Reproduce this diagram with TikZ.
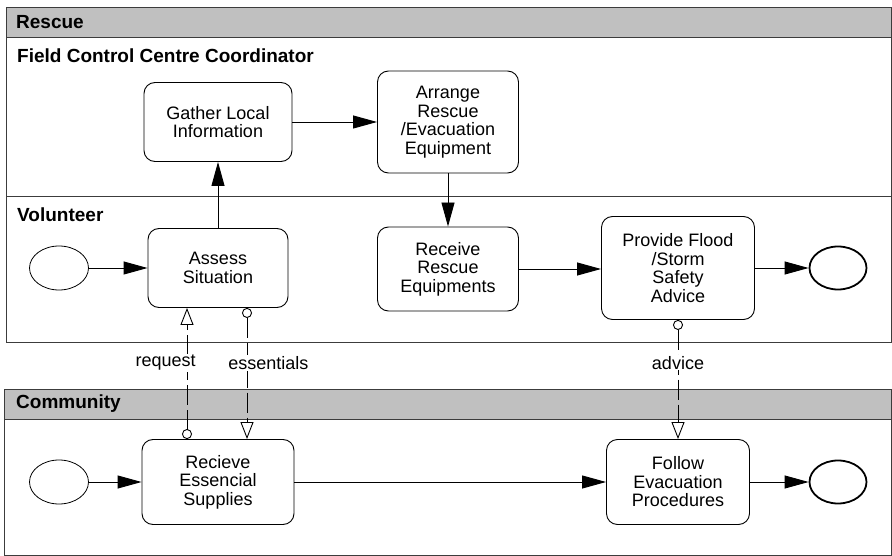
\documentclass[tikz,border=0pt]{standalone}
\usepackage{fontspec}
\setmainfont{Liberation Sans}
\usepackage{tikz}
\usetikzlibrary{arrows.meta,shapes.geometric,positioning}
\definecolor{H}{RGB}{192,192,192}
\definecolor{P}{RGB}{60,60,60}
\tikzstyle{task} = [rectangle, rounded corners=11pt, draw=black, line width=0.9pt,
text centered, align=center, inner sep=2pt,
font=\fontsize{18}{18.5}\selectfont]
\tikzstyle{start} = [ellipse, draw=black, line width=0.8pt, minimum width=59pt, minimum height=44pt]
\tikzstyle{stop} = [ellipse, draw=black, line width=1.8pt, minimum width=57pt, minimum height=43pt]
\tikzstyle{lane} = [anchor=west, inner sep=0pt, font=\fontsize{19}{20}\bfseries]
\tikzstyle{flow} = [-{Triangle[length=24pt,width=13pt]}, line width=0.9pt]
\tikzstyle{msg} = [{Circle[open,length=10pt,width=10pt]}-{Triangle[open,length=17pt,width=13pt]},
line width=0.9pt, dash pattern=on 20pt off 5pt]
\tikzstyle{msglbl} = [fill=white, inner sep=1pt, font=\fontsize{18}{18}\selectfont]

\begin{document}
\begin{tikzpicture}[x=1pt, y=-1pt]
    \useasboundingbox (0,0) rectangle (892,556);

    % pools and lanes
    \draw[P, line width=0.9pt, fill=H] (6,7) rectangle (891,37);
    \draw[P, line width=0.9pt] (6,37) rectangle (891,342);
    \draw[P, line width=0.9pt] (6,196) -- (891,196);
    \draw[P, line width=0.9pt, fill=H] (4,389) rectangle (891,419);
    \draw[P, line width=0.9pt] (4,419) rectangle (891,555);

    \node[lane] (rescue)    at (16,22)  {Rescue};
    \node[lane] (fcc)       at (17,56)  {Field Control Centre Coordinator};
    \node[lane] (volunteer) at (17,215) {Volunteer};
    \node[lane] (community) at (16,404) {Community};

    % Rescue pool
    \node[task, minimum width=148pt, minimum height=79pt]  (gather)  at (218,122) {Gather Local\\Information};
    \node[task, minimum width=141pt, minimum height=102pt] (arrange) at (448,122) {Arrange\\Rescue\\/Evacuation\\Equipment};

    \node[start]                                           (vstart)  at (59,268)  {};
    \node[task, minimum width=140pt, minimum height=79pt]  (assess)  at (218,268) {Assess\\Situation};
    \node[task, minimum width=141pt, minimum height=84pt]  (receive) at (448,269) {Receive\\Rescue\\Equipments};
    \node[task, minimum width=153pt, minimum height=103pt] (provide) at (678,268) {Provide Flood\\/Storm\\Safety\\Advice};
    \node[stop]                                            (vend)    at (838,268) {};

    % Community pool
    \node[start]                                           (cstart)  at (59,482)  {};
    \node[task, minimum width=152pt, minimum height=85pt]  (supply)  at (218,482) {Recieve\\Essencial\\Supplies};
    \node[task, minimum width=143pt, minimum height=85pt]  (follow)  at (678,482) {Follow\\Evacuation\\Procedures};
    \node[stop]                                            (cend)    at (838,482) {};

    % sequence flows
    \draw[flow] (gather) -- (arrange);
    \draw[flow] (arrange) -- (receive);
    \draw[flow] (assess) -- (gather);
    \draw[flow] (vstart) -- (assess);
    \draw[flow] (receive.east) -- (provide.west |- receive.east);
    \draw[flow] (provide) -- (vend);
    \draw[flow] (cstart) -- (supply);
    \draw[flow] (supply) -- (follow);
    \draw[flow] (follow) -- (cend);

    % message flows
    \draw[msg] ([xshift=-31pt]supply.north) -- node[msglbl, pos=0.58, anchor=east, xshift=10pt] {request} ([xshift=-31pt]assess.south);
    \draw[msg] ([xshift=29pt]assess.south) -- node[msglbl, pos=0.42, anchor=west, xshift=-20pt] {essentials} ([xshift=29pt]supply.north);
    \draw[msg] (provide.south) -- node[msglbl, pos=0.36] {advice} (follow.north);
\end{tikzpicture}
\end{document}
